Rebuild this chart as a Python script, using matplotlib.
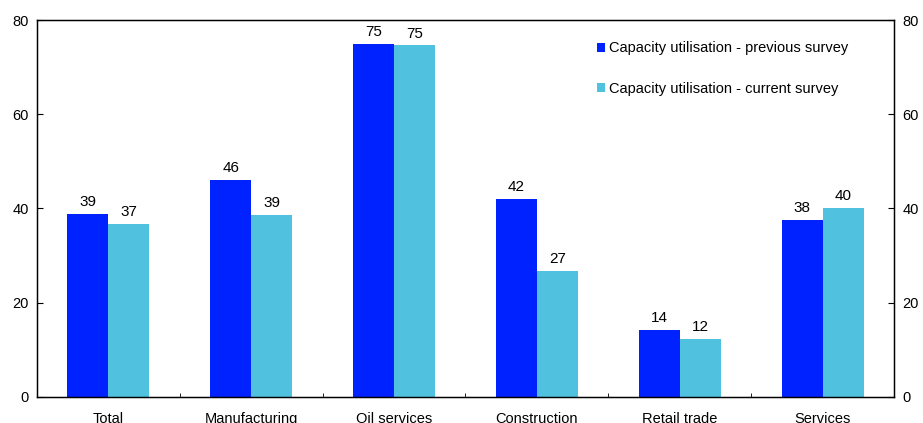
import numpy as np
import matplotlib.pyplot as plt

plt.rcParams['font.family'] = ['Liberation Sans', 'DejaVu Sans']

categories = ["Total", "Manufacturing", "Oil services", "Construction", "Retail trade", "Services"]
previous = [38.9, 46.1, 75.0, 42.0, 14.2, 37.6]
current = [36.8, 38.6, 74.6, 26.8, 12.3, 40.1]
labels = ["Capacity utilisation - previous survey", "Capacity utilisation - current survey"]

fig = plt.figure(figsize=(9.23, 4.23), dpi=100)
ax = fig.add_axes([0.040, 0.0615, 0.9286, 0.8912])

x = np.arange(len(categories))
w = 0.287
b1 = ax.bar(x - w/2, previous, w, color='#0022FF', label=labels[0])
b2 = ax.bar(x + w/2, current, w, color='#50C2E0', label=labels[1])

for bars, vals in ((b1, previous), (b2, current)):
    for r, v in zip(bars, vals):
        ax.text(r.get_x() + r.get_width()/2, v + 1.0, "%d" % round(v),
                ha='center', va='bottom', fontsize=11)

ax.set_xlim(-0.5, len(categories) - 0.5)
ax.set_ylim(0, 80)
ax.set_yticks([0, 20, 40, 60, 80])
ax.set_xticks(x)
ax.set_xticklabels(categories, fontsize=10.5)
ax.set_xticks(np.arange(len(categories) + 1) - 0.5, minor=True)
ax.tick_params(axis='x', which='major', length=0, pad=10.5)
ax.tick_params(axis='x', which='minor', direction='in', length=3)
ax.tick_params(axis='y', direction='in', length=4, labelsize=10.5, pad=6)
for s in ax.spines.values():
    s.set_linewidth(1.0)

ax2 = ax.twinx()
ax2.set_ylim(0, 80)
ax2.set_yticks([0, 20, 40, 60, 80])
ax2.tick_params(axis='y', direction='in', length=4, labelsize=10.5, pad=6)

leg = ax.legend(loc='upper left', bbox_to_anchor=(0.653, 0.943), frameon=False,
                borderaxespad=0, borderpad=0,
                fontsize=10.5, handlelength=0.55, handleheight=0.55, handletextpad=0.3,
                labelspacing=1.8)

fig.savefig("out.png", dpi=100)
